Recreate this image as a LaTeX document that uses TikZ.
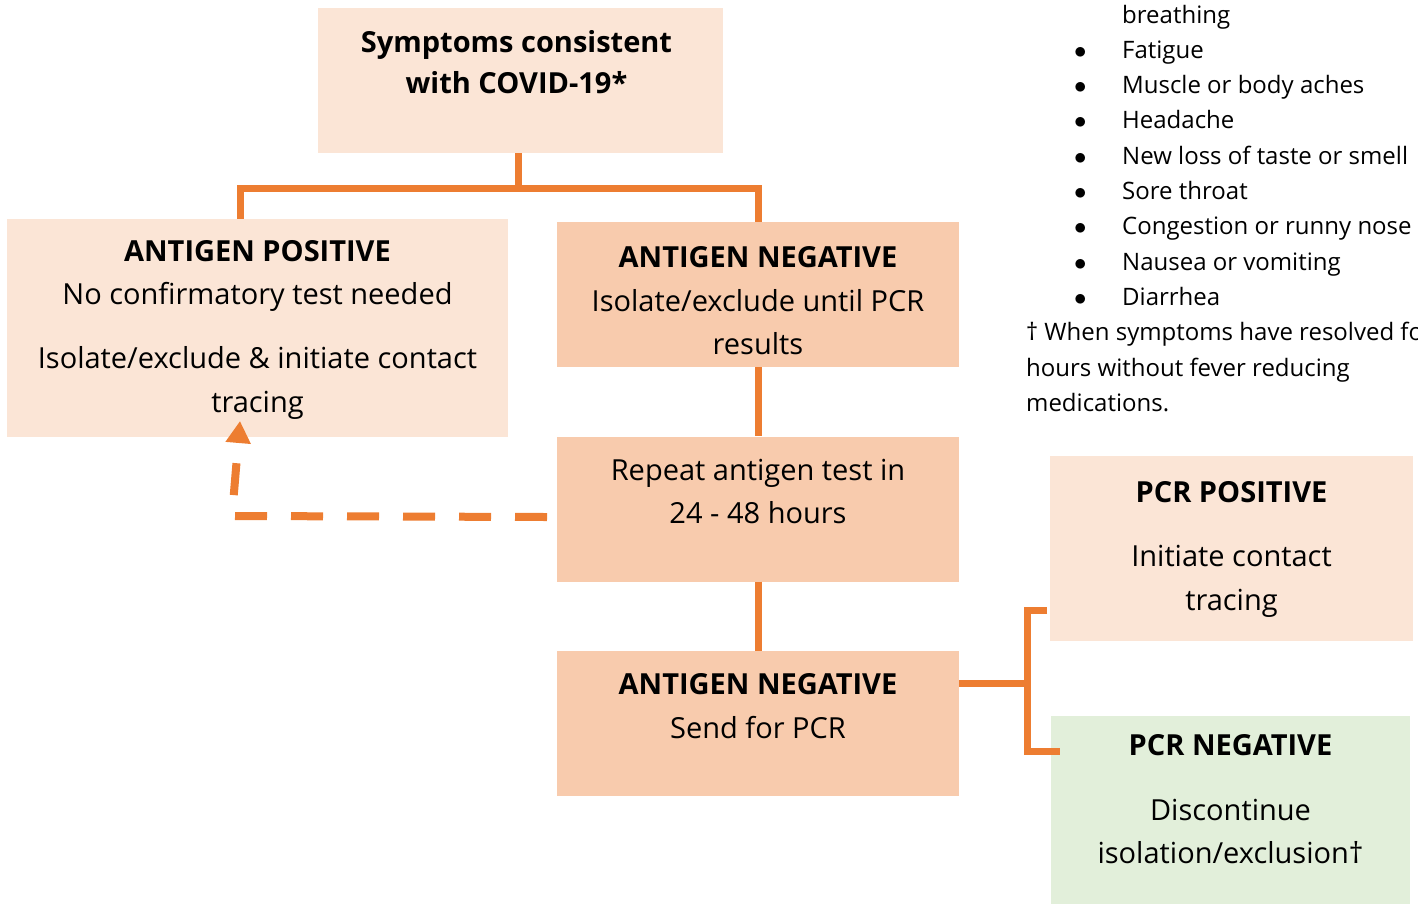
\documentclass[tikz,border=0pt]{standalone}
\usepackage{fontspec}
\setmainfont{Open Sans}
\usetikzlibrary{arrows.meta}
\definecolor{peach}{HTML}{FBE5D6}
\definecolor{apricot}{HTML}{F8CBAD}
\definecolor{mint}{HTML}{E2EFDA}
\definecolor{flame}{HTML}{ED7D31}
% invisible struts that set where the text sits in a box
\newcommand{\boxtop}{\rule{0pt}{40pt}}
\newcommand{\boxbot}[1]{\rule[-#1pt]{0pt}{#1pt}}
\begin{document}
\begin{tikzpicture}[x=1pt, y=-1pt, node distance={214.5pt},
    main/.style = {fill=peach, inner sep=0pt, align=center, font=\fontsize{29}{43.5}\selectfont},
    link/.style = {draw=flame, line width=7pt}]
    \useasboundingbox (0,0) rectangle (1418,903);
    \clip (0,0) rectangle (1418,903);
    \node[main, minimum width=405pt, minimum height=145pt, font=\fontsize{29}{41}\selectfont\bfseries] (1) at (520.5,80.5) {\boxtop Symptoms consistent\kern8pt\\with COVID-19*\kern8pt\boxbot{56}};
    \node[main, minimum width=501pt, minimum height=218pt] (2) at (257.5,328) {\boxtop\textbf{ANTIGEN POSITIVE}\\No confirmatory test needed\\[20.5pt]Isolate/exclude \& initiate contact\\tracing\boxbot{23}};
    \node[main, fill=apricot, minimum width=402pt, minimum height=145pt] (3) at (758,294.5) {\boxtop\textbf{ANTIGEN NEGATIVE}\\Isolate/exclude until PCR\\results\boxbot{7}};
    \node[main, fill=apricot, minimum width=402pt, minimum height=145pt] (4) [below of=3] {\boxtop Repeat antigen test in\\24 - 48 hours\boxbot{54}};
    \node[main, fill=apricot, minimum width=402pt, minimum height=145pt] (5) [below of=4] {\boxtop\textbf{ANTIGEN NEGATIVE}\\Send for PCR\boxbot{54}};
    \node[main, minimum width=363pt, minimum height=185pt] (6) at (1231.5,548.5) {\boxtop\textbf{PCR POSITIVE}\\[21pt]Initiate contact\\tracing\boxbot{25}};
    \node[main, fill=mint, minimum width=359pt, minimum height=184pt] (7) at (1230.5,811) {\boxtop\textbf{PCR NEGATIVE}\\[21pt]Discontinue\\isolation/exclusion†\boxbot{43}};
    \node[anchor=base west, inner sep=0pt, font=\fontsize{24}{35.3}\selectfont] (8) at (1026,23) {%
        \begin{tabular}[t]{@{}p{48pt}@{}p{48pt}@{}l@{}}
            & & breathing\\
            & $\bullet$ & Fatigue\\
            & $\bullet$ & Muscle or body aches\\
            & $\bullet$ & Headache\\
            & $\bullet$ & New loss of taste or smell\\
            & $\bullet$ & Sore throat\\
            & $\bullet$ & Congestion or runny nose\\
            & $\bullet$ & Nausea or vomiting\\
            & $\bullet$ & Diarrhea\\
            \multicolumn{3}{@{}l@{}}{† When symptoms have resolved fo}\\
            \multicolumn{3}{@{}l@{}}{hours without fever reducing}\\
            \multicolumn{3}{@{}l@{}}{medications.}
        \end{tabular}};
    \coordinate (split) at (518,188);
    \coordinate (fork) at (1027,683);
    \coordinate (up) at (1047,610);
    \coordinate (dn) at (1060,751);
    \coordinate (start) at (547,517);
    \coordinate (bend) at (232,516);
    \coordinate (tip) at (240,421);
    \draw[link] (1.south -| split) -- (split);
    \draw[link] ([xshift=-17.5pt]2.north) |- (split) -| (3.north);
    \draw[link] (3) -- (4);
    \draw[link] (4) -- (5);
    \draw[link] (5.east |- fork) -- (fork);
    \draw[link] (up) -| (fork) |- (dn);
    \draw[link, line width=8pt, dash pattern=on 32pt off 24pt, -{Triangle[length=22pt,width=24pt]}] (start) -- (bend) -- (tip);
\end{tikzpicture}
\end{document}
